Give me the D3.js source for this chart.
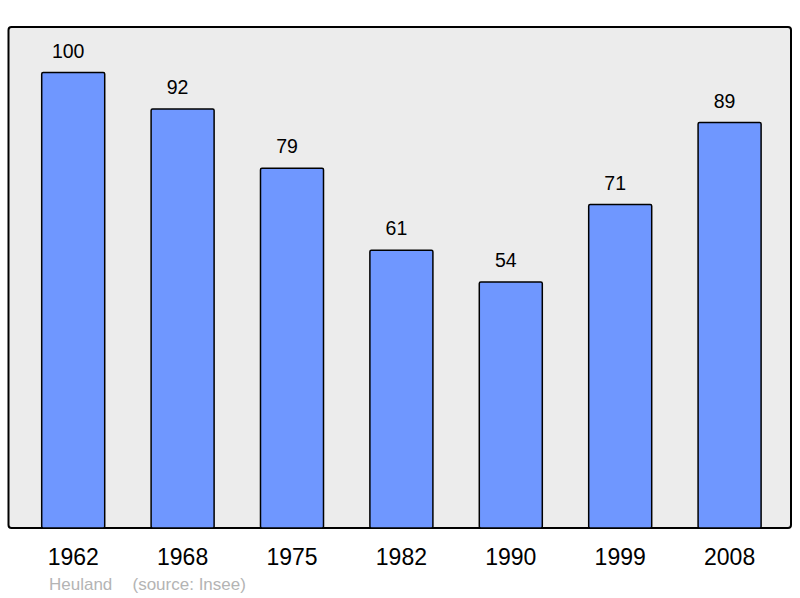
<!DOCTYPE html>
<html>
<head>
<meta charset="utf-8">
<script src="https://cdn.jsdelivr.net/npm/d3@7"></script>
<style>
  body { margin: 0; background: #fff; }
  text { font-family: "Liberation Sans", Arial, sans-serif; }
</style>
</head>
<body>
<div id="chart"></div>
<script>
// population index per census year
var years = ["1962", "1968", "1975", "1982", "1990", "1999", "2008"];
var values = [100, 92, 79, 61, 54, 71, 89];
var placeName = "Heuland";
var sourceText = "(source: Insee)";

var svgWidth = 800;
var svgHeight = 598;

var svg = d3.select("#chart")
  .append("svg")
  .attr("width", svgWidth)
  .attr("height", svgHeight);

// grey frame behind the bars
svg.append("rect")
  .attr("x", 8.5)
  .attr("y", 27)
  .attr("width", 782.5)
  .attr("height", 501)
  .attr("rx", 3)
  .attr("fill", "#ececec")
  .attr("stroke", "#000")
  .attr("stroke-width", 2);

var xScale = d3.scaleBand()
  .domain(years)
  .range([41.7, 761.1])
  .paddingInner(0.424)
  .paddingOuter(0);

var yScale = d3.scaleLinear()
  .domain([0, 100])
  .range([528, 72.5]);

// bars
svg.selectAll(".bar")
  .data(values)
  .enter()
  .append("rect")
  .classed("bar", true)
  .attr("x", (d, i) => xScale(years[i]))
  .attr("y", d => yScale(d))
  .attr("width", xScale.bandwidth())
  .attr("height", d => yScale(0) - yScale(d))
  .attr("rx", 1.5)
  .attr("fill", "#6f97ff")
  .attr("stroke", "#000")
  .attr("stroke-width", 1.5);

// value labels above bars
svg.selectAll(".val")
  .data(values)
  .enter()
  .append("text")
  .classed("val", true)
  .attr("x", (d, i) => xScale(years[i]) + xScale.bandwidth() / 2 - 5)
  .attr("y", d => yScale(d) - 15)
  .attr("text-anchor", "middle")
  .attr("font-size", "19.5px")
  .attr("fill", "#000")
  .text(d => d);

// year labels under the axis
var bottomAxis = d3.axisBottom(xScale).tickSize(0).tickPadding(0);
var xAxis = svg.append("g")
  .attr("transform", "translate(0, 528)")
  .call(bottomAxis);
xAxis.select(".domain").remove();
xAxis.selectAll("text")
  .attr("dy", null)
  .attr("y", 37)
  .attr("font-size", "23px")
  .attr("font-family", "Liberation Sans, Arial, sans-serif")
  .attr("fill", "#000");

// footer
svg.append("text")
  .attr("x", 49)
  .attr("y", 590)
  .attr("font-size", "17px")
  .attr("fill", "#b4b4b4")
  .text(placeName);

svg.append("text")
  .attr("x", 132.5)
  .attr("y", 590)
  .attr("font-size", "17px")
  .attr("fill", "#b4b4b4")
  .text(sourceText);
</script>
</body>
</html>
